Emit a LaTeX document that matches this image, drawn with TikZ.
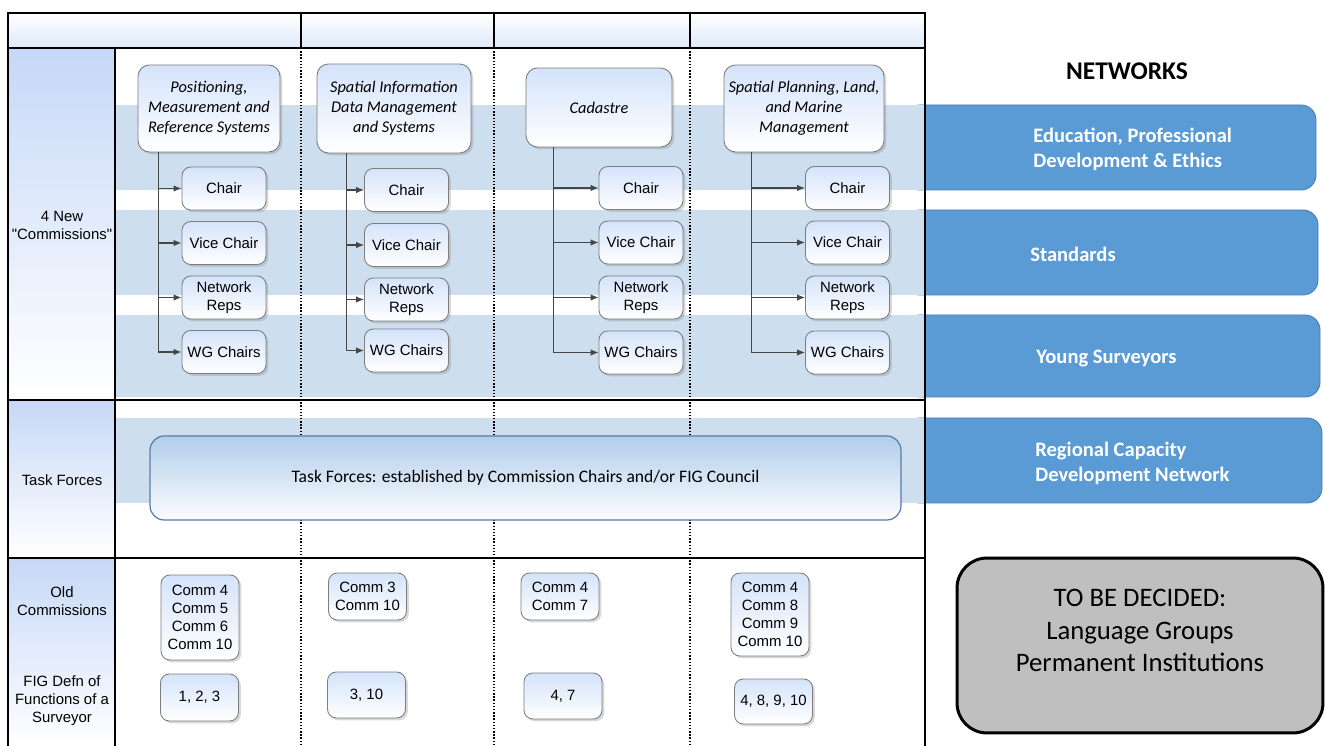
\documentclass[tikz,border=0pt]{standalone}
\usepackage{fontspec}
\setmainfont{Liberation Sans}
\newfontfamily\calibri{Carlito}
\usetikzlibrary{shadows,arrows.meta}

\definecolor{bandblue}{RGB}{205,222,239}
\definecolor{netblue}{RGB}{91,155,213}
\definecolor{netedge}{RGB}{70,125,185}
\definecolor{boxtop}{RGB}{212,227,250}
\definecolor{boxedge}{RGB}{125,125,125}
\definecolor{linkgray}{RGB}{70,70,70}
\definecolor{sideblue}{RGB}{198,216,247}
\definecolor{headblue}{RGB}{222,233,249}
\definecolor{tftop}{RGB}{178,205,234}
\definecolor{tfedge}{RGB}{88,125,168}
\definecolor{tbdgray}{RGB}{191,191,191}

\begin{document}
\begin{tikzpicture}[>={Latex[length=4.5pt,width=3.6pt]}, x=0.02cm, y=-0.02cm,
  grid/.style={line width=0.8pt, black},
  sep/.style={line width=0.8pt, densely dotted, black},
  box/.style={draw=boxedge, line width=0.5pt, rounded corners=5pt,
    top color=boxtop, bottom color=white, align=center, inner sep=1pt,
    drop shadow={shadow xshift=1.3pt, shadow yshift=-1.3pt, opacity=0.3}},
  comm/.style={box, rounded corners=6.5pt,
    font=\calibri\itshape\fontsize{9.3}{11.4}\selectfont},
  role/.style={box, minimum width=1.68cm, minimum height=0.86cm,
    font=\fontsize{8.5}{10.2}\selectfont},
  oldc/.style={box, minimum width=1.56cm, font=\fontsize{8.5}{10.2}\selectfont},
  side/.style={align=center, font=\fontsize{8.5}{10.2}\selectfont},
  link/.style={draw=linkgray, line width=0.6pt},
  nettext/.style={anchor=west, inner sep=0pt, align=left, text=white,
    font=\calibri\bfseries\fontsize{11.7}{14.2}\selectfont},
  netbox/.style={fill=netblue, draw=netedge, line width=0.5pt, rounded corners=8.5pt}
]
  \useasboundingbox (0,0) rectangle (1326,746);

  % header row and side column
  \shade[top color=white, bottom color=headblue] (8,13) rectangle (925,48);
  \shade[top color=sideblue, bottom color=white] (8,48) rectangle (115,400);
  \shade[top color=sideblue, bottom color=white] (8,400) rectangle (115,558);
  \shade[top color=sideblue, bottom color=white] (8,558) rectangle (115,746);

  % networks
  \path[netbox] (905,105) rectangle (1316,190);
  \path[netbox] (905,210) rectangle (1318,295);
  \path[netbox] (905,315) rectangle (1320,397);
  \path[netbox] (905,418) rectangle (1322,503);

  % bands
  \fill[bandblue] (115,105) rectangle (925,190);
  \fill[bandblue] (115,210) rectangle (925,295);
  \fill[bandblue] (115,315) rectangle (925,397);
  \fill[bandblue] (115,418) rectangle (925,503);

  % column separators
  \draw[sep] (301,48) -- (301,746);
  \draw[sep] (494,48) -- (494,746);
  \draw[sep] (690,48) -- (690,746);

  % table lines
  \draw[grid] (8,746) -- (8,13) -- (925,13) -- (925,746);
  \draw[grid] (8,48) -- (925,48);
  \draw[grid] (8,400) -- (925,400);
  \draw[grid] (8,558) -- (925,558);
  \draw[grid] (115,48) -- (115,746);
  \draw[grid] (301,13) -- (301,48);
  \draw[grid] (494,13) -- (494,48);
  \draw[grid] (690,13) -- (690,48);

  % side labels
  \node[side] (newc) at (62,225) {4 New\\\textquotedbl Commissions\textquotedbl};
  \node[side] (tfl) at (62,480) {Task Forces};
  \node[side] (oldl) at (62,601) {Old\\Commissions};
  \node[side] (defl) at (62,701) {FIG Defn of\\Functions of a\\Surveyor};

  % new commissions
  \node[comm, minimum width=2.84cm, minimum height=1.74cm] (pc1) at (209,108.5)
    {Positioning,\\Measurement and\\Reference Systems};
  \node[comm, minimum width=3.08cm, minimum height=1.78cm] (pc2) at (394,108.5)
    {Spatial Information\\Data Management\\and Systems};
  \node[comm, minimum width=2.92cm, minimum height=1.58cm] (pc3) at (599,107.5)
    {Cadastre};
  \node[comm, minimum width=3.2cm, minimum height=1.74cm] (pc4) at (804,108.5)
    {Spatial Planning, Land,\\and Marine\\Management};

  % officers of each commission
  \foreach \c/\x/\dx/\ya/\yb/\yc/\yd in {1/224/0.42/188.5/243/297.5/352,
      2/406.5/0.6/190/245/299.5/350.5, 3/641/0.56/188/242.5/297.5/352.5,
      4/847.5/0.56/188/242.5/297.5/352.5}{
    \node[role] (ch\c) at (\x,\ya) {Chair};
    \node[role] (vc\c) at (\x,\yb) {Vice Chair};
    \node[role] (nr\c) at (\x,\yc) {Network\\Reps};
    \node[role] (wg\c) at (\x,\yd) {WG Chairs};
    \coordinate (t\c) at ([xshift=\dx cm]pc\c.south west);
    \foreach \r in {ch,vc,nr,wg}
      \draw[link,->] (t\c) |- (\r\c);
  }

  % task forces
  \node[draw=tfedge, line width=0.7pt, rounded corners=8pt, top color=tftop,
    bottom color=white!95!tftop, minimum width=15.02cm, minimum height=1.68cm,
    font=\calibri\fontsize{10}{12}\selectfont] (tf) at (525.5,478)
    {Task Forces: established by Commission Chairs and/or FIG Council};

  % old commissions
  \node[oldc, minimum height=1.7cm] (oc1) at (200,617.5) {Comm 4\\Comm 5\\Comm 6\\Comm 10};
  \node[oldc, minimum height=0.94cm] (oc2) at (367.5,596.5) {Comm 3\\Comm 10};
  \node[oldc, minimum height=0.94cm] (oc3) at (560,596.5) {Comm 4\\Comm 7};
  \node[oldc, minimum height=1.66cm] (oc4) at (770,614.5) {Comm 4\\Comm 8\\Comm 9\\Comm 10};

  % functions of a surveyor
  \node[oldc, minimum height=0.94cm] (fs1) at (199.5,697.5) {1, 2, 3};
  \node[oldc, minimum height=0.92cm] (fs2) at (366.5,695) {3, 10};
  \node[oldc, minimum height=0.92cm] (fs3) at (563,696) {4, 7};
  \node[oldc, minimum height=0.9cm] (fs4) at (773.5,701.5) {4, 8, 9, 10};

  % network labels
  \node[font=\calibri\bfseries\fontsize{14.5}{17}\selectfont] (nets) at (1127,71) {NETWORKS};
  \node[nettext] (edu) at (1033,149) {Education, Professional\\Development \& Ethics};
  \node[nettext] (std) at (1030,254) {Standards};
  \node[nettext] (ysv) at (1036,359) {Young Surveyors};
  \node[nettext] (rcd) at (1035,463) {Regional Capacity\\Development Network};

  % still open
  \node[draw=black, line width=1.7pt, fill=tbdgray, rounded corners=0.6cm,
    minimum width=7.32cm, minimum height=3.5cm] (tbd) at (1140,645.5) {};
  \node[align=center, font=\calibri\fontsize{15.2}{18.5}\selectfont] (tbdtxt)
    at ([yshift=8.5pt]tbd.center) {TO BE DECIDED:\\Language Groups\\Permanent Institutions};
\end{tikzpicture}
\end{document}
